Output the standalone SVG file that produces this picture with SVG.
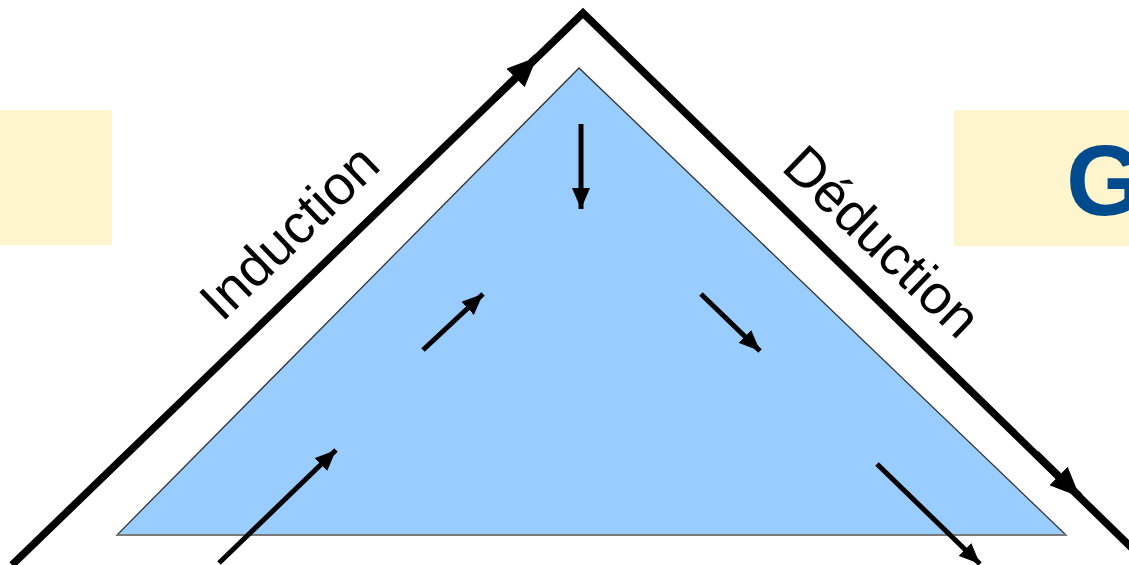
<svg xmlns="http://www.w3.org/2000/svg" width="1129" height="565" viewBox="0 0 1129 565">
<style>
.lbl{font-family:"Liberation Sans",Arial,sans-serif;font-size:55px;fill:#000}
.big{font-family:"Liberation Sans",Arial,sans-serif;font-size:100px;font-weight:bold;fill:#004B8D}
.box{fill:#FFF5CC}
.leg{fill:none;stroke:#000;stroke-width:7.5;stroke-linejoin:miter;stroke-miterlimit:10}
.arr{fill:none;stroke:#000;stroke-width:5}
</style>
<defs>
<marker id="bigHead" viewBox="0 0 10 10" refX="10" refY="5" markerUnits="userSpaceOnUse" markerWidth="30" markerHeight="26" orient="auto" preserveAspectRatio="none">
<path d="M0,0 L10,5 L0,10 z" fill="#000"/>
</marker>
<marker id="head" viewBox="0 0 10 10" refX="10" refY="5" markerUnits="userSpaceOnUse" markerWidth="21" markerHeight="18" orient="auto" preserveAspectRatio="none">
<path d="M0,0 L10,5 L0,10 z" fill="#000"/>
</marker>
</defs>
<g id="box-left"><rect class="box" x="0" y="110" width="112" height="135"/></g>
<g id="box-right"><rect class="box" x="954" y="110" width="175" height="136"/><text class="big" x="1066" y="215">G</text></g>
<g id="triangle"><polygon points="579,68 117,535 1066,535" fill="#99CCFF" stroke="#333" stroke-width="1.3"/><line x1="117" y1="535" x2="1066" y2="535" stroke="#7a7a7a" stroke-width="2"/></g>
<g id="induction"><text class="lbl" transform="translate(222,323) rotate(-44)">Induction</text></g>
<g id="deduction"><text class="lbl" transform="translate(780,169) rotate(44)">Déduction</text></g>
<g id="connectors">
<polyline class="leg" points="12,565 583,13 1140,556"/>
<path class="leg" d="M495,98 L537,57" marker-end="url(#bigHead)"/>
<path class="leg" d="M1036,454 L1080,497" marker-end="url(#bigHead)"/>
<path class="arr" d="M581,124 L581,209" marker-end="url(#head)"/>
<path class="arr" d="M423,350 L483,294" marker-end="url(#head)"/>
<path class="arr" d="M701,294 L760,351" marker-end="url(#head)"/>
<path class="arr" d="M219,563 L336,450" marker-end="url(#head)"/>
<path class="arr" d="M877,464 L980,564" marker-end="url(#head)"/>
</g>
</svg>
